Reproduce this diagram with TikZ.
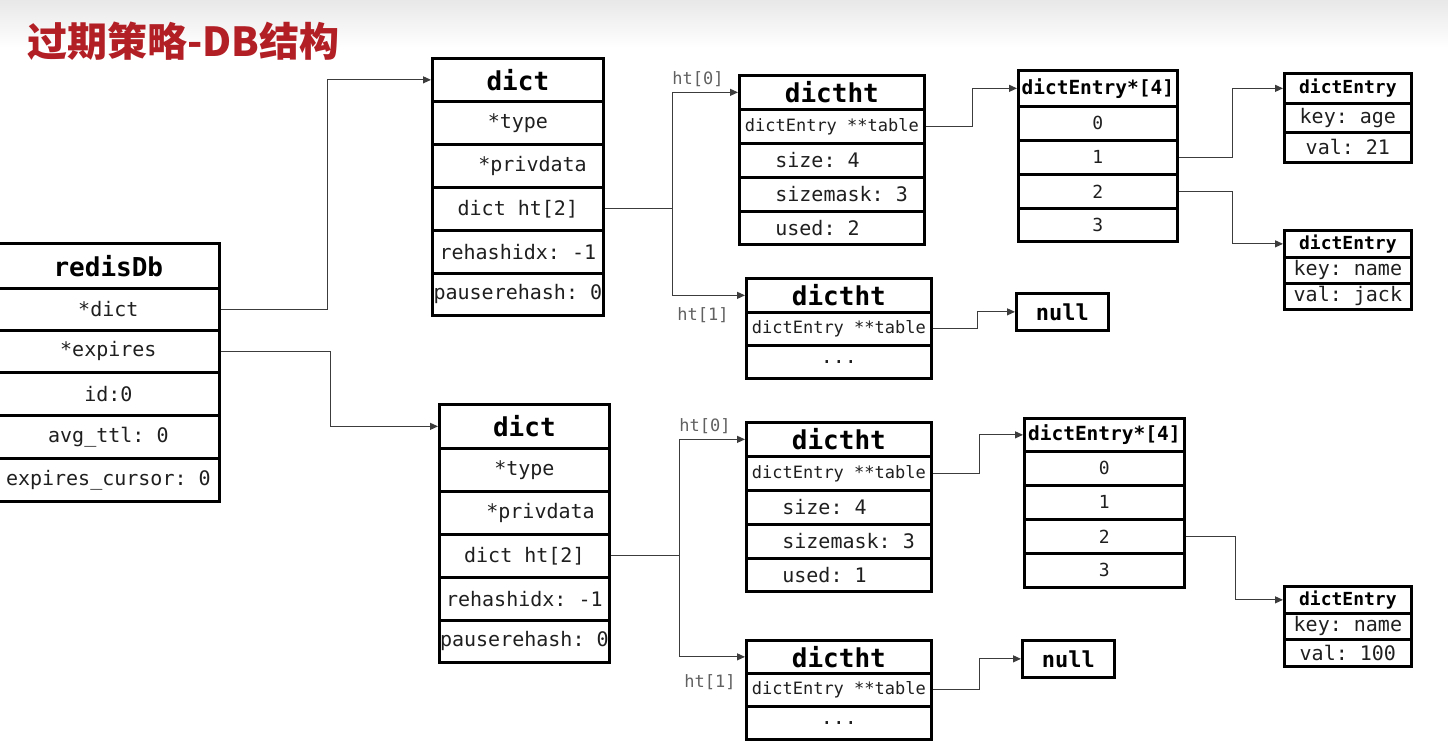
\documentclass[tikz,border=0pt]{standalone}
\usepackage{fontspec}
\newfontfamily\mono{DejaVu Sans Mono}
\newfontfamily\cjk{Noto Sans CJK SC}
\usetikzlibrary{arrows.meta}
\definecolor{titlered}{RGB}{178,32,38}
\definecolor{linegray}{RGB}{60,60,60}
\tikzset{
  cell/.style={draw=black, line width=2.7pt, inner sep=0pt, anchor=north west, fill=white,
    text=black!88, font=\mono\fontsize{20}{24}\selectfont},
  hdr/.style={cell, text=black, font=\mono\bfseries\fontsize{26}{30}\selectfont},
  tcell/.style={cell, font=\mono\fontsize{17}{20}\selectfont},
  acell/.style={cell, font=\mono\fontsize{18}{22}\selectfont},
  ahdr/.style={cell, text=black, font=\mono\bfseries\fontsize{19.5}{23}\selectfont},
  ehdr/.style={cell, text=black, font=\mono\bfseries\fontsize{18}{22}\selectfont},
  nullbox/.style={cell, text=black, font=\mono\bfseries\fontsize{22}{26}\selectfont},
  conn/.style={draw=linegray, line width=1.1pt, -{Triangle[length=8pt,width=7pt]}},
  lbl/.style={text=black!62, inner sep=0pt, font=\mono\fontsize{17}{20}\selectfont},
  titlestyle/.style={text=titlered, inner sep=0pt, anchor=west, font=\cjk\bfseries\fontsize{40}{44}\selectfont},
}
\newcommand\mycell[6][cell]{\node[#1,minimum width=#4,minimum height=#5] (#2) at (#3) {#6};}
\newcommand\lpad[3]{\makebox[#1][l]{\hspace*{#2}#3}}
\begin{document}
\frenchspacing
\begin{tikzpicture}[x=1pt,y=-1pt]
\useasboundingbox (0,0) rectangle (1448,745);
\fill[white] (0,0) rectangle (1448,745);
\fill[top color=black!9, bottom color=white, draw=none] (0,0) rectangle (1448,48);
\node[titlestyle] (title) at (27,41) {过期策略-DB结构};

% redisDb
\mycell[hdr]{rh}{-4,242}{222}{45}{redisDb}
\mycell{rdict}{-4,287}{222}{42}{*dict}
\mycell{rexp}{-4,329}{222}{42}{*expires}
\mycell{rid}{-4,371}{222}{43}{id:0}
\mycell{ravg}{-4,414}{222}{43}{avg\_ttl: 0}
\mycell{rcur}{-4,457}{222}{43}{expires\_cursor: 0}

% top dict
\mycell[hdr]{d1h}{431,57}{171}{43}{dict}
\mycell{d1type}{431,100}{171}{43}{*type}
\mycell{d1priv}{431,143}{171}{43}{\lpad{171pt}{46pt}{*privdata}}
\mycell{d1ht}{431,186}{171}{43}{dict ht[2]}
\mycell{d1re}{431,229}{171}{43}{rehashidx: -1}
\mycell{d1pa}{431,272}{171}{42}{pauserehash: 0}

% bottom dict
\mycell[hdr]{d2h}{438,403}{170}{44}{dict}
\mycell{d2type}{438,447}{170}{43}{*type}
\mycell{d2priv}{438,490}{170}{43}{\lpad{170pt}{47pt}{*privdata}}
\mycell{d2ht}{438,533}{170}{43}{dict ht[2]}
\mycell{d2re}{438,576}{170}{43}{rehashidx: -1}
\mycell{d2pa}{438,619}{170}{42}{pauserehash: 0}

% top dictht ht[0]
\mycell[hdr]{t0h}{738,74}{185}{34}{dictht}
\mycell[tcell]{t0tab}{738,108}{185}{34}{dictEntry **table}
\mycell{t0size}{738,142}{185}{34}{\lpad{185pt}{36pt}{size: 4}}
\mycell{t0mask}{738,176}{185}{34}{\lpad{185pt}{36pt}{sizemask: 3}}
\mycell{t0used}{738,210}{185}{33}{\lpad{185pt}{36pt}{used: 2}}

% top dictht ht[1]
\mycell[hdr]{t1h}{745,277}{185}{34}{dictht}
\mycell[tcell]{t1tab}{745,311}{185}{33}{dictEntry **table}
\mycell{t1dots}{745,344}{185}{33}{...}

% bottom dictht ht[0]
\mycell[hdr]{u0h}{745,421}{185}{34}{dictht}
\mycell[tcell]{u0tab}{745,455}{185}{34}{dictEntry **table}
\mycell{u0size}{745,489}{185}{34}{\lpad{185pt}{36pt}{size: 4}}
\mycell{u0mask}{745,523}{185}{34}{\lpad{185pt}{36pt}{sizemask: 3}}
\mycell{u0used}{745,557}{185}{33}{\lpad{185pt}{36pt}{used: 1}}

% bottom dictht ht[1]
\mycell[hdr]{u1h}{745,639}{185}{33}{dictht}
\mycell[tcell]{u1tab}{745,672}{185}{33}{dictEntry **table}
\mycell{u1dots}{745,705}{185}{33}{...}

% top dictEntry*[4]
\mycell[ahdr]{a1h}{1017,69}{159}{36}{dictEntry*[4]}
\mycell[acell]{a1r0}{1017,105}{159}{34}{0}
\mycell[acell]{a1r1}{1017,139}{159}{34}{1}
\mycell[acell]{a1r2}{1017,173}{159}{34}{2}
\mycell[acell]{a1r3}{1017,207}{159}{33}{3}

% bottom dictEntry*[4]
\mycell[ahdr]{b1h}{1023,417}{160}{33}{dictEntry*[4]}
\mycell[acell]{b1r0}{1023,450}{160}{34}{0}
\mycell[acell]{b1r1}{1023,484}{160}{34}{1}
\mycell[acell]{b1r2}{1023,518}{160}{34}{2}
\mycell[acell]{b1r3}{1023,552}{160}{34}{3}

% dictEntry boxes
\mycell[ehdr]{e1h}{1283,72}{127}{30}{dictEntry}
\mycell{e1k}{1283,102}{127}{29}{key: age}
\mycell{e1v}{1283,131}{127}{30}{val: 21}

\mycell[ehdr]{e2h}{1283,229}{127}{27}{dictEntry}
\mycell{e2k}{1283,256}{127}{26}{key: name}
\mycell{e2v}{1283,282}{127}{26}{val: jack}

\mycell[ehdr]{e3h}{1283,585}{127}{27}{dictEntry}
\mycell{e3k}{1283,612}{127}{26}{key: name}
\mycell{e3v}{1283,638}{127}{27}{val: 100}

% null boxes
\mycell[nullbox]{null1}{1015,292}{92}{37}{null}
\mycell[nullbox]{null2}{1021,639}{92}{37}{null}

% labels
\node[lbl] (l1) at (698,79) {ht[0]};
\node[lbl] (l2) at (703,315) {ht[1]};
\node[lbl] (l3) at (705,426) {ht[0]};
\node[lbl] (l4) at (710,682) {ht[1]};

% connectors
\draw[conn] (rdict.east) -- ++(107,0) |- (d1h.west);
\draw[conn] (rexp.east) -- ++(110,0) |- (d2h.west);
\draw[conn] (d1ht.east) -- ++(68,0) coordinate (j1) |- (t0h.west);
\draw[conn] (j1) |- (t1h.west);
\draw[conn] (d2ht.east) -- ++(69,0) coordinate (j2) |- (u0h.west);
\draw[conn] (j2) |- (u1h.west);
\draw[conn] (t0tab.east) -- ++(47,0) |- (a1h.west);
\draw[conn] (t1tab.east) -- ++(45,0) |- (null1.west);
\draw[conn] (u0tab.east) -- ++(47,0) |- (b1h.west);
\draw[conn] (u1tab.east) -- ++(47,0) |- (null2.west);
\draw[conn] (a1r1.east) -- ++(54,0) |- (e1h.west);
\draw[conn] (a1r2.east) -- ++(54,0) |- (e2h.west);
\draw[conn] (b1r2.east) -- ++(50,0) |- (e3h.west);
\end{tikzpicture}
\end{document}
